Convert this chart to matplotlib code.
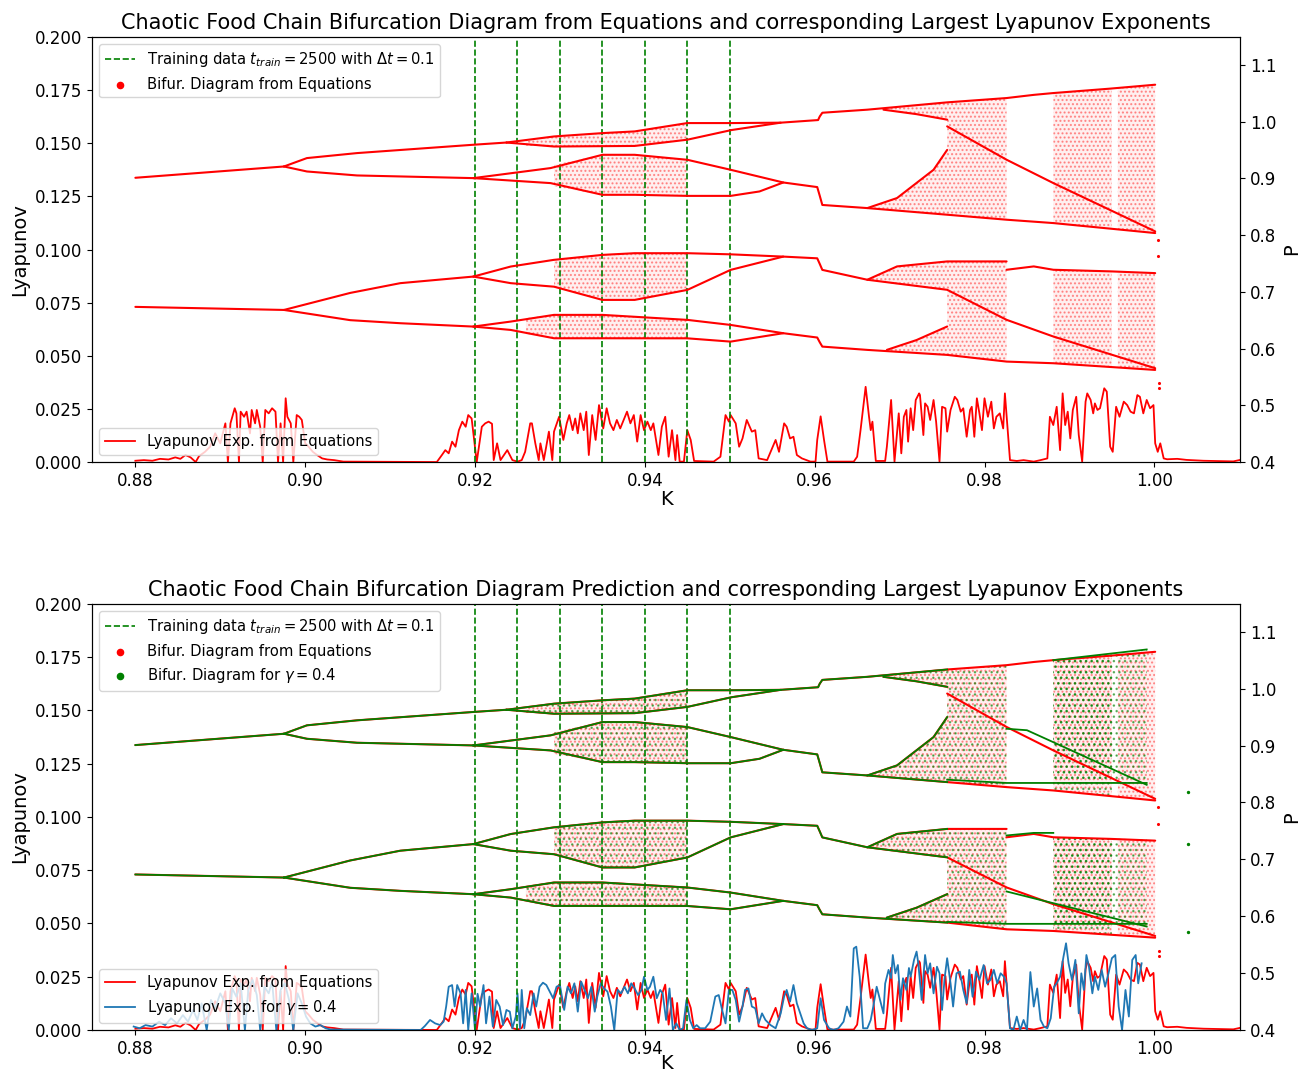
import numpy as np
import matplotlib.pyplot as plt

## Lyapunov exponents (values in units of 1e-3)

lyap_eq_K = [
    0.8800, 0.8810, 0.8820, 0.8829, 0.8839, 0.8847, 0.8853, 0.8859, 0.8865, 0.8871,
    0.8875, 0.8882, 0.8888, 0.8894, 0.8900, 0.8906, 0.8909, 0.8912, 0.8917, 0.8919,
    0.8922, 0.8924, 0.8928, 0.8931, 0.8935, 0.8937, 0.8941, 0.8943, 0.8947, 0.8950,
    0.8953, 0.8957, 0.8961, 0.8965, 0.8968, 0.8971, 0.8974, 0.8977, 0.8979, 0.8983,
    0.8986, 0.8990, 0.8993, 0.8996, 0.9000, 0.9004, 0.9009, 0.9014, 0.9020, 0.9026,
    0.9034, 0.9045, 0.9155, 0.9161, 0.9165, 0.9169, 0.9173, 0.9177, 0.9181, 0.9185,
    0.9189, 0.9192, 0.9196, 0.9202, 0.9208, 0.9212, 0.9216, 0.9220, 0.9222, 0.9226,
    0.9230, 0.9238, 0.9244, 0.9250, 0.9255, 0.9259, 0.9265, 0.9267, 0.9271, 0.9275,
    0.9277, 0.9281, 0.9287, 0.9291, 0.9293, 0.9299, 0.9304, 0.9308, 0.9311, 0.9315,
    0.9318, 0.9321, 0.9324, 0.9328, 0.9331, 0.9334, 0.9338, 0.9342, 0.9346, 0.9351,
    0.9355, 0.9359, 0.9363, 0.9367, 0.9371, 0.9375, 0.9379, 0.9383, 0.9387, 0.9391,
    0.9395, 0.9399, 0.9403, 0.9407, 0.9410, 0.9416, 0.9420, 0.9424, 0.9428, 0.9432,
    0.9436, 0.9438, 0.9441, 0.9446, 0.9450, 0.9454, 0.9458, 0.9481, 0.9489, 0.9495,
    0.9499, 0.9501, 0.9507, 0.9511, 0.9515, 0.9520, 0.9526, 0.9530, 0.9534, 0.9544,
    0.9554, 0.9558, 0.9564, 0.9567, 0.9571, 0.9575, 0.9579, 0.9585, 0.9595, 0.9601,
    0.9603, 0.9607, 0.9611, 0.9615, 0.9646, 0.9650, 0.9654, 0.9660, 0.9664, 0.9666,
    0.9668, 0.9672, 0.9683, 0.9685, 0.9690, 0.9694, 0.9699, 0.9702, 0.9705, 0.9708,
    0.9710, 0.9713, 0.9716, 0.9719, 0.9723, 0.9724, 0.9728, 0.9730, 0.9733, 0.9736,
    0.9740, 0.9743, 0.9747, 0.9750, 0.9754, 0.9756, 0.9760, 0.9765, 0.9768, 0.9772,
    0.9775, 0.9779, 0.9783, 0.9785, 0.9788, 0.9791, 0.9794, 0.9797, 0.9800, 0.9804,
    0.9808, 0.9811, 0.9814, 0.9818, 0.9822, 0.9824, 0.9830, 0.9838, 0.9846, 0.9858,
    0.9866, 0.9874, 0.9877, 0.9881, 0.9885, 0.9889, 0.9892, 0.9895, 0.9898, 0.9901,
    0.9904, 0.9908, 0.9911, 0.9915, 0.9919, 0.9921, 0.9925, 0.9928, 0.9930, 0.9933,
    0.9936, 0.9941, 0.9944, 0.9948, 0.9951, 0.9955, 0.9959, 0.9964, 0.9968, 0.9972,
    0.9976, 0.9980, 0.9983, 0.9987, 0.9991, 0.9995, 0.9999, 1.0001, 1.0004, 1.0007,
    1.0011, 1.0015, 1.0027, 1.0038, 1.0058, 1.0078, 1.0093, 1.0101]
lyap_eq_milli = [
    0.6, 0.9, 0.6, 1.5, 1.2, 2.2, 1.5, 3.3, 2.2, 0.0,
    2.8, 4.8, 7.2, 13.5, 8.8, 18.2, 0.0, 18.2, 25.3, 22.9,
    0.0, 23.7, 21.3, 23.7, 13.5, 24.5, 18.2, 24.5, 16.6, 0.0,
    24.5, 22.9, 25.3, 23.7, 0.0, 18.2, 0.0, 30.0, 21.3, 18.2,
    0.0, 22.1, 21.3, 19.8, 8.8, 7.2, 4.8, 3.3, 1.7, 1.2,
    0.9, 0.2, 0.0, 3.3, 5.6, 4.1, 9.6, 7.2, 15.0, 19.0,
    16.6, 22.1, 20.5, 0.0, 16.6, 18.2, 19.0, 18.0, 0.9, 8.8,
    0.9, 5.6, 0.9, 0.2, 0.9, 4.8, 18.2, 18.2, 8.8, 0.9,
    8.8, 0.9, 14.3, 0.9, 14.3, 21.3, 10.4, 18.2, 22.1, 15.0,
    20.5, 13.5, 22.9, 15.0, 23.7, 3.3, 22.1, 10.4, 26.8, 15.8,
    25.3, 18.2, 15.0, 19.8, 15.8, 19.8, 23.7, 18.2, 22.1, 9.6,
    22.1, 15.0, 19.0, 15.0, 18.2, 3.3, 16.6, 21.3, 2.5, 15.0,
    0.9, 12.7, 0.2, 0.2, 15.0, 10.4, 0.5, 0.2, 2.5, 22.1,
    19.0, 22.1, 18.2, 7.2, 11.1, 19.8, 14.3, 15.0, 1.7, 0.9,
    10.4, 4.8, 18.2, 16.6, 11.1, 11.9, 3.3, 1.7, 0.2, 0.2,
    10.4, 21.5, 10.4, 0.2, 0.2, 2.5, 15.0, 35.4, 21.3, 15.0,
    19.0, 0.5, 0.5, 7.2, 29.2, 0.2, 22.9, 4.1, 21.3, 24.5,
    9.6, 25.3, 15.0, 29.2, 32.3, 31.5, 12.7, 27.6, 26.0, 19.8,
    29.2, 19.0, 0.2, 26.0, 25.3, 14.3, 24.5, 30.7, 29.2, 23.7,
    25.3, 11.9, 24.5, 26.0, 11.9, 30.0, 22.9, 15.0, 30.0, 21.3,
    28.4, 15.8, 21.3, 22.9, 15.8, 32.3, 0.9, 0.5, 0.9, 0.2,
    0.9, 1.7, 21.3, 17.4, 26.0, 5.6, 32.3, 17.4, 23.7, 11.1,
    24.5, 30.7, 12.7, 0.2, 28.4, 32.3, 29.2, 22.9, 27.6, 24.5,
    25.3, 34.7, 33.1, 7.2, 4.8, 26.0, 21.3, 28.4, 26.8, 23.7,
    22.9, 31.5, 30.7, 22.9, 29.2, 25.3, 26.8, 8.8, 4.8, 8.8,
    1.7, 1.3, 1.5, 1.0, 0.6, 0.4, 0.3, 1.0]

lyap_gam_K = [
    0.8798, 0.8805, 0.8812, 0.8820, 0.8828, 0.8835, 0.8842, 0.8849, 0.8856, 0.8862,
    0.8868, 0.8873, 0.8878, 0.8884, 0.8889, 0.8894, 0.8900, 0.8906, 0.8910, 0.8914,
    0.8919, 0.8924, 0.8929, 0.8933, 0.8938, 0.8943, 0.8947, 0.8952, 0.8957, 0.8961,
    0.8966, 0.8971, 0.8976, 0.8981, 0.8986, 0.8991, 0.8996, 0.9001, 0.9006, 0.9012,
    0.9018, 0.9024, 0.9030, 0.9136, 0.9141, 0.9147, 0.9153, 0.9159, 0.9163, 0.9166,
    0.9169, 0.9173, 0.9176, 0.9179, 0.9183, 0.9186, 0.9189, 0.9192, 0.9196, 0.9200,
    0.9203, 0.9206, 0.9210, 0.9213, 0.9217, 0.9221, 0.9225, 0.9229, 0.9233, 0.9237,
    0.9241, 0.9244, 0.9248, 0.9250, 0.9253, 0.9255, 0.9258, 0.9261, 0.9265, 0.9269,
    0.9272, 0.9276, 0.9280, 0.9284, 0.9288, 0.9292, 0.9296, 0.9300, 0.9305, 0.9309,
    0.9313, 0.9317, 0.9321, 0.9325, 0.9329, 0.9333, 0.9337, 0.9341, 0.9344, 0.9348,
    0.9352, 0.9356, 0.9360, 0.9364, 0.9368, 0.9372, 0.9376, 0.9380, 0.9384, 0.9388,
    0.9392, 0.9396, 0.9399, 0.9403, 0.9406, 0.9410, 0.9414, 0.9418, 0.9421, 0.9425,
    0.9429, 0.9433, 0.9437, 0.9441, 0.9445, 0.9449, 0.9453, 0.9457, 0.9461, 0.9465,
    0.9471, 0.9477, 0.9483, 0.9487, 0.9491, 0.9495, 0.9499, 0.9503, 0.9507, 0.9511,
    0.9515, 0.9518, 0.9522, 0.9526, 0.9530, 0.9534, 0.9538, 0.9542, 0.9548, 0.9554,
    0.9560, 0.9564, 0.9567, 0.9571, 0.9575, 0.9579, 0.9583, 0.9587, 0.9591, 0.9597,
    0.9603, 0.9607, 0.9611, 0.9617, 0.9622, 0.9628, 0.9634, 0.9638, 0.9642, 0.9646,
    0.9649, 0.9653, 0.9657, 0.9662, 0.9666, 0.9669, 0.9673, 0.9677, 0.9681, 0.9683,
    0.9687, 0.9690, 0.9692, 0.9695, 0.9698, 0.9701, 0.9704, 0.9708, 0.9711, 0.9713,
    0.9717, 0.9720, 0.9722, 0.9726, 0.9730, 0.9733, 0.9736, 0.9740, 0.9744, 0.9747,
    0.9750, 0.9753, 0.9756, 0.9760, 0.9763, 0.9767, 0.9771, 0.9775, 0.9779, 0.9782,
    0.9786, 0.9790, 0.9794, 0.9799, 0.9803, 0.9807, 0.9811, 0.9815, 0.9819, 0.9823,
    0.9826, 0.9830, 0.9834, 0.9838, 0.9842, 0.9846, 0.9850, 0.9854, 0.9858, 0.9862,
    0.9866, 0.9870, 0.9874, 0.9878, 0.9882, 0.9885, 0.9889, 0.9893, 0.9896, 0.9899,
    0.9903, 0.9907, 0.9911, 0.9914, 0.9917, 0.9920, 0.9923, 0.9927, 0.9930, 0.9934,
    0.9938, 0.9942, 0.9946, 0.9950, 0.9954, 0.9958, 0.9962, 0.9966, 0.9970, 0.9974,
    0.9978, 0.9981, 0.9985]
lyap_gam_milli = [
    1.6, 0.8, 2.3, 1.6, 3.9, 2.3, 5.5, 3.1, 7.0, 3.9,
    9.4, 4.7, 12.5, 0.0, 14.1, 10.2, 17.2, 12.5, 0.0, 19.5,
    15.6, 21.9, 0.0, 18.8, 23.5, 16.4, 0.0, 20.3, 17.2, 22.7,
    0.0, 18.8, 21.9, 14.1, 0.0, 17.2, 12.5, 6.3, 3.1, 1.6,
    2.3, 0.8, 0.2, 0.0, 1.9, 4.7, 3.1, 2.3, 3.9, 11.0,
    20.3, 21.1, 11.0, 21.1, 17.2, 3.1, 18.8, 0.0, 17.2, 0.0,
    17.0, 11.0, 21.1, 3.1, 15.7, 1.6, 14.1, 11.0, 2.3, 9.4,
    8.6, 0.8, 6.3, 17.2, 0.8, 18.8, 0.8, 10.2, 7.0, 17.2,
    11.0, 20.3, 22.2, 21.1, 18.0, 14.9, 20.3, 21.1, 9.4, 20.3,
    17.2, 21.9, 8.6, 22.7, 18.8, 14.9, 20.3, 8.6, 15.7, 21.9,
    19.5, 18.0, 11.0, 0.0, 18.8, 17.2, 20.3, 17.2, 21.9, 19.5,
    16.4, 18.8, 25.0, 18.8, 20.3, 25.0, 14.9, 18.8, 17.2, 4.7,
    19.5, 0.0, 3.1, 0.0, 0.8, 14.1, 4.7, 0.8, 2.3, 0.8,
    0.8, 3.9, 15.7, 16.4, 9.4, 3.1, 18.8, 18.8, 14.1, 3.9,
    11.0, 18.8, 19.5, 11.0, 10.2, 3.1, 7.8, 4.7, 2.3, 0.8,
    7.8, 15.7, 18.8, 13.3, 21.1, 12.5, 7.8, 3.1, 0.8, 0.0,
    0.8, 14.9, 4.7, 0.8, 0.0, 0.8, 3.9, 11.0, 6.3, 38.3,
    39.1, 25.0, 0.8, 0.8, 4.7, 11.0, 20.3, 14.1, 7.8, 21.8,
    28.2, 24.3, 35.2, 26.6, 30.5, 14.1, 24.3, 18.8, 29.1, 25.0,
    32.9, 36.8, 31.3, 14.1, 35.2, 26.6, 31.3, 17.2, 29.7, 26.6,
    9.4, 24.3, 33.7, 21.9, 11.0, 26.6, 27.4, 18.8, 12.5, 28.2,
    15.6, 27.4, 23.5, 30.5, 21.9, 23.5, 28.2, 21.9, 26.6, 25.0,
    21.9, 0.8, 0.0, 6.3, 0.0, 4.7, 0.0, 27.2, 11.0, 19.5,
    4.7, 1.6, 0.8, 5.5, 20.3, 21.9, 25.0, 34.4, 40.7, 31.3,
    23.5, 32.9, 7.8, 26.6, 18.8, 35.2, 29.7, 17.2, 25.0, 18.8,
    28.2, 20.3, 26.6, 33.7, 35.2, 11.0, 0.0, 18.8, 6.3, 32.9,
    35.2, 21.9, 31.3]

# training windows
train_K = [0.920, 0.925, 0.930, 0.935, 0.940, 0.945, 0.950]

## Bifurcation diagram: periodic branches (K, P) per orbit group

group1_K = [
    [0.8800, 0.8975],
    [0.8975, 0.9002, 0.9061, 0.9198, 0.9237],
    [0.9237, 0.9293, 0.9350, 0.9388, 0.9450, 0.9502, 0.9560, 0.9604, 0.9606, 0.9609,
     0.9662, 0.9756, 0.9826, 0.9858, 0.9881, 0.9948, 1.0001],
    [0.9237, 0.9293, 0.9388, 0.9450, 0.9502, 0.9560],
    [0.9681, 0.9720, 0.9756],
    [0.9756, 0.9826, 0.9881, 1.0001],
]
group1_P = [
    [0.9009, 0.9208],
    [0.9208, 0.9356, 0.9444, 0.9591, 0.9630],
    [0.9630, 0.9737, 0.9796, 0.9826, 0.9973, 0.9973, 0.9980, 1.0026, 1.0090, 1.0155,
     1.0209, 1.0338, 1.0414, 1.0470, 1.0502, 1.0580, 1.0649],
    [0.9630, 0.9560, 0.9570, 0.9680, 0.9850, 0.9980],
    [1.0209, 1.0130, 1.0033],
    [0.9915, 0.9327, 0.8916, 0.8064],
]

group2_K = [
    [0.8975, 0.9002, 0.9061, 0.9198],
    [0.9198, 0.9289, 0.9350, 0.9388, 0.9450, 0.9501, 0.9563, 0.9603, 0.9606, 0.9609,
     0.9662, 0.9756, 0.9826, 0.9881, 1.0001],
    [0.9198, 0.9289, 0.9350, 0.9388, 0.9450, 0.9501, 0.9535, 0.9563],
    [0.9662, 0.9697, 0.9740, 0.9756],
]
group2_P = [
    [0.9208, 0.9120, 0.9050, 0.9003],
    [0.9003, 0.9180, 0.9414, 0.9414, 0.9326, 0.9150, 0.8926, 0.8845, 0.8690, 0.8530,
     0.8475, 0.8358, 0.8270, 0.8211, 0.8035],
    [0.9003, 0.8915, 0.8709, 0.8709, 0.8690, 0.8690, 0.8768, 0.8926],
    [0.8475, 0.8652, 0.9150, 0.9500],
]

group3_K = [
    [0.8800, 0.8975],
    [0.8975, 0.9053, 0.9112, 0.9198],
    [0.9198, 0.9242, 0.9293, 0.9350, 0.9388, 0.9450, 0.9501, 0.9563, 0.9603, 0.9606,
     0.9609, 0.9662, 0.9697, 0.9756, 0.9826],
    [0.9198, 0.9242, 0.9293, 0.9350, 0.9388, 0.9450, 0.9501, 0.9563],
    [0.9662, 0.9756, 0.9826, 0.9881, 1.0001],
    [0.9826, 0.9858, 0.9881, 0.9948, 1.0001],
]
group3_P = [
    [0.6734, 0.6680],
    [0.6680, 0.6980, 0.7152, 0.7268],
    [0.7268, 0.7445, 0.7563, 0.7650, 0.7680, 0.7680, 0.7660, 0.7620, 0.7590, 0.7490,
     0.7386, 0.7212, 0.7447, 0.7535, 0.7535],
    [0.7268, 0.7152, 0.7090, 0.6857, 0.6857, 0.7033, 0.7386, 0.7620],
    [0.7212, 0.7035, 0.6506, 0.6212, 0.5653],
    [0.7388, 0.7447, 0.7388, 0.7360, 0.7329],
]

group4_K = [
    [0.8975, 0.9053, 0.9112, 0.9198],
    [0.9198, 0.9242, 0.9293, 0.9350, 0.9450, 0.9501, 0.9563, 0.9603, 0.9606, 0.9609,
     0.9662, 0.9756, 0.9826, 0.9881, 1.0001],
    [0.9198, 0.9242, 0.9293, 0.9350, 0.9450, 0.9501, 0.9563],
    [0.9685, 0.9720, 0.9756],
]
group4_P = [
    [0.6680, 0.6500, 0.6446, 0.6387],
    [0.6387, 0.6475, 0.6593, 0.6593, 0.6505, 0.6416, 0.6270, 0.6194, 0.6110, 0.6034,
     0.5976, 0.5888, 0.5770, 0.5741, 0.5623],
    [0.6387, 0.6328, 0.6181, 0.6181, 0.6180, 0.6122, 0.6270],
    [0.5976, 0.6150, 0.6388],
]

# chaotic bands: K, lower P, upper P
chaos_K = [
    [0.9260, 0.9293, 0.9350, 0.9388, 0.9450],
    [0.9293, 0.9350, 0.9388, 0.9450],
    [0.9293, 0.9350, 0.9388, 0.9450],
    [0.9260, 0.9293, 0.9350, 0.9450],
    [0.9681, 0.9720, 0.9756],
    [0.9662, 0.9697, 0.9740, 0.9756],
    [0.9756, 0.9790, 0.9826],
    [0.9881, 0.9950],
    [0.9957, 1.0001],
    [0.9662, 0.9697, 0.9756],
    [0.9685, 0.9720, 0.9756],
    [0.9756, 0.9826],
    [0.9881, 0.9950],
    [0.9957, 1.0001],
]
chaos_lo = [
    [0.9575, 0.9560, 0.9560, 0.9570, 0.9680],
    [0.8856, 0.8709, 0.8709, 0.8690],
    [0.7090, 0.6857, 0.6857, 0.7033],
    [0.6250, 0.6181, 0.6181, 0.6180],
    [1.0209, 1.0130, 1.0033],
    [0.8475, 0.8440, 0.8380, 0.8358],
    [0.8358, 0.8310, 0.8270],
    [0.8211, 0.8120],
    [0.8100, 0.8035],
    [0.7212, 0.7130, 0.7035],
    [0.5960, 0.5920, 0.5888],
    [0.5888, 0.5770],
    [0.5741, 0.5680],
    [0.5660, 0.5623],
]
chaos_hi = [
    [0.9650, 0.9737, 0.9796, 0.9826, 0.9973],
    [0.9238, 0.9414, 0.9414, 0.9326],
    [0.7563, 0.7650, 0.7680, 0.7680],
    [0.6540, 0.6593, 0.6593, 0.6505],
    [1.0230, 1.0280, 1.0338],
    [0.8475, 0.8652, 0.9150, 0.9500],
    [1.0338, 1.0376, 1.0414],
    [1.0502, 1.0585],
    [1.0590, 1.0649],
    [0.7212, 0.7447, 0.7535],
    [0.5976, 0.6150, 0.6388],
    [0.7535, 0.7535],
    [0.7388, 0.7360],
    [0.7350, 0.7329],
]

stray_eq_K = [1.0004, 1.0004, 1.0006, 1.0005]
stray_eq_P = [0.7917, 0.7623, 0.5388, 0.5300]

# prediction (gamma = 0.4): late branches that leave the red ones
pred_late_K = [
    [0.9756, 0.9826, 0.9991],
    [0.9826, 0.9850, 0.9881, 0.9991],
    [0.9881, 0.9991],
    [0.9756, 0.9826, 0.9991],
    [0.9826, 0.9881, 0.9991],
    [0.9826, 0.9858, 0.9881],
]
pred_late_P = [
    [0.8400, 0.8343, 0.8343],
    [0.9296, 0.9270, 0.9060, 0.8310],
    [1.0502, 1.0690],
    [0.5900, 0.5866, 0.5866],
    [0.6435, 0.6229, 0.5819],
    [0.7420, 0.7465, 0.7465],
]
pred_chaos_K = [[0.9881, 0.9991], [0.9881, 0.9991]]
pred_chaos_lo = [[0.8343, 0.8343], [0.5866, 0.5866]]
pred_chaos_hi = [[1.0502, 1.0690], [0.7388, 0.7350]]
stray_pred_K = [1.0040, 1.0040, 1.0040]
stray_pred_P = [0.8185, 0.7275, 0.5730]

groups_K = [group1_K, group2_K, group3_K, group4_K]
groups_P = [group1_P, group2_P, group3_P, group4_P]

plt.rcParams['hatch.linewidth'] = 1.0


def draw_red(ax2):
    for k, lo, hi in zip(chaos_K, chaos_lo, chaos_hi):
        ax2.fill_between(k, lo, hi, facecolor=(1, 0.6, 0.6, 0.15),
                         edgecolor=(1, 0, 0, 0.4), hatch='....', linewidth=0)
    for gk, gp in zip(groups_K, groups_P):
        for k, p in zip(gk, gp):
            ax2.plot(k, p, color='red', lw=1.5, solid_capstyle='round')
    ax2.scatter(stray_eq_K, stray_eq_P, color='red', s=1.5)


def draw_green(ax2):
    kmax = 0.9757
    for k, lo, hi in zip(chaos_K, chaos_lo, chaos_hi):
        if k[0] < 0.99:
            ax2.fill_between(k, lo, hi, facecolor='none',
                             edgecolor=(0, 0.5, 0, 0.55), hatch='...', linewidth=0)
    for k, lo, hi in zip(pred_chaos_K, pred_chaos_lo, pred_chaos_hi):
        ax2.fill_between(k, lo, hi, facecolor='none',
                         edgecolor=(0, 0.5, 0, 0.55), hatch='...', linewidth=0)
    for gk, gp in zip(groups_K, groups_P):
        for k, p in zip(gk, gp):
            k = np.array(k)
            p = np.array(p)
            keep = k <= kmax
            if keep.sum() > 1:
                ax2.plot(k[keep], p[keep], color='green', lw=1.3)
    for k, p in zip(pred_late_K, pred_late_P):
        ax2.plot(k, p, color='green', lw=1.3)
    ax2.scatter(stray_pred_K, stray_pred_P, color='green', s=2)


def make_panel(ax, title, with_pred, xpad):
    ax2 = ax.twinx()

    ax.plot(lyap_eq_K, np.array(lyap_eq_milli) / 1000, color='red', lw=1.3,
            label='Lyapunov Exp. from Equations')
    if with_pred:
        ax.plot(lyap_gam_K, np.array(lyap_gam_milli) / 1000, color='#1f77b4', lw=1.3,
                label=r'Lyapunov Exp. for $\gamma = 0.4$')

    handles = []
    for i, k in enumerate(train_K):
        ln = ax2.axvline(k, color='green', ls='--', lw=1.2)
        if i == 0:
            ln.set_label(r'Training data $t_{train} = 2500$ with $\Delta t = 0.1$')
            handles.append(ln)

    draw_red(ax2)
    handles.append(ax2.scatter([], [], color='red', s=20, label='Bifur. Diagram from Equations'))
    if with_pred:
        draw_green(ax2)
        handles.append(ax2.scatter([], [], color='green', s=20,
                                   label=r'Bifur. Diagram for $\gamma = 0.4$'))

    ax.set_xlim(0.8749, 1.0101)
    ax.set_ylim(0, 0.2)
    ax2.set_ylim(0.4, 1.149)

    ax.set_title(title, fontsize=15)
    ax.set_xlabel('K', fontsize=14, labelpad=xpad)
    ax.set_ylabel('Lyapunov', fontsize=14)
    ax2.set_ylabel('P', fontsize=14)
    ax.tick_params(labelsize=12)
    ax2.tick_params(labelsize=12)

    ax2.legend(handles=handles, loc='upper left', fontsize=10.6, scatterpoints=1)
    ax.legend(loc='lower left', fontsize=10.6)
    return ax2


fig = plt.figure(figsize=(13.04, 10.72), dpi=100)
ax_top = fig.add_axes([0.0706, 0.569, 0.8804, 0.3965])
ax_bot = fig.add_axes([0.0706, 0.0392, 0.8804, 0.3974])

make_panel(ax_top, 'Chaotic Food Chain Bifurcation Diagram from Equations and corresponding '
                   'Largest Lyapunov Exponents', False, 0)
make_panel(ax_bot, 'Chaotic Food Chain Bifurcation Diagram Prediction and corresponding '
                   'Largest Lyapunov Exponents', True, -3)

fig.savefig('out.png', dpi=100)
